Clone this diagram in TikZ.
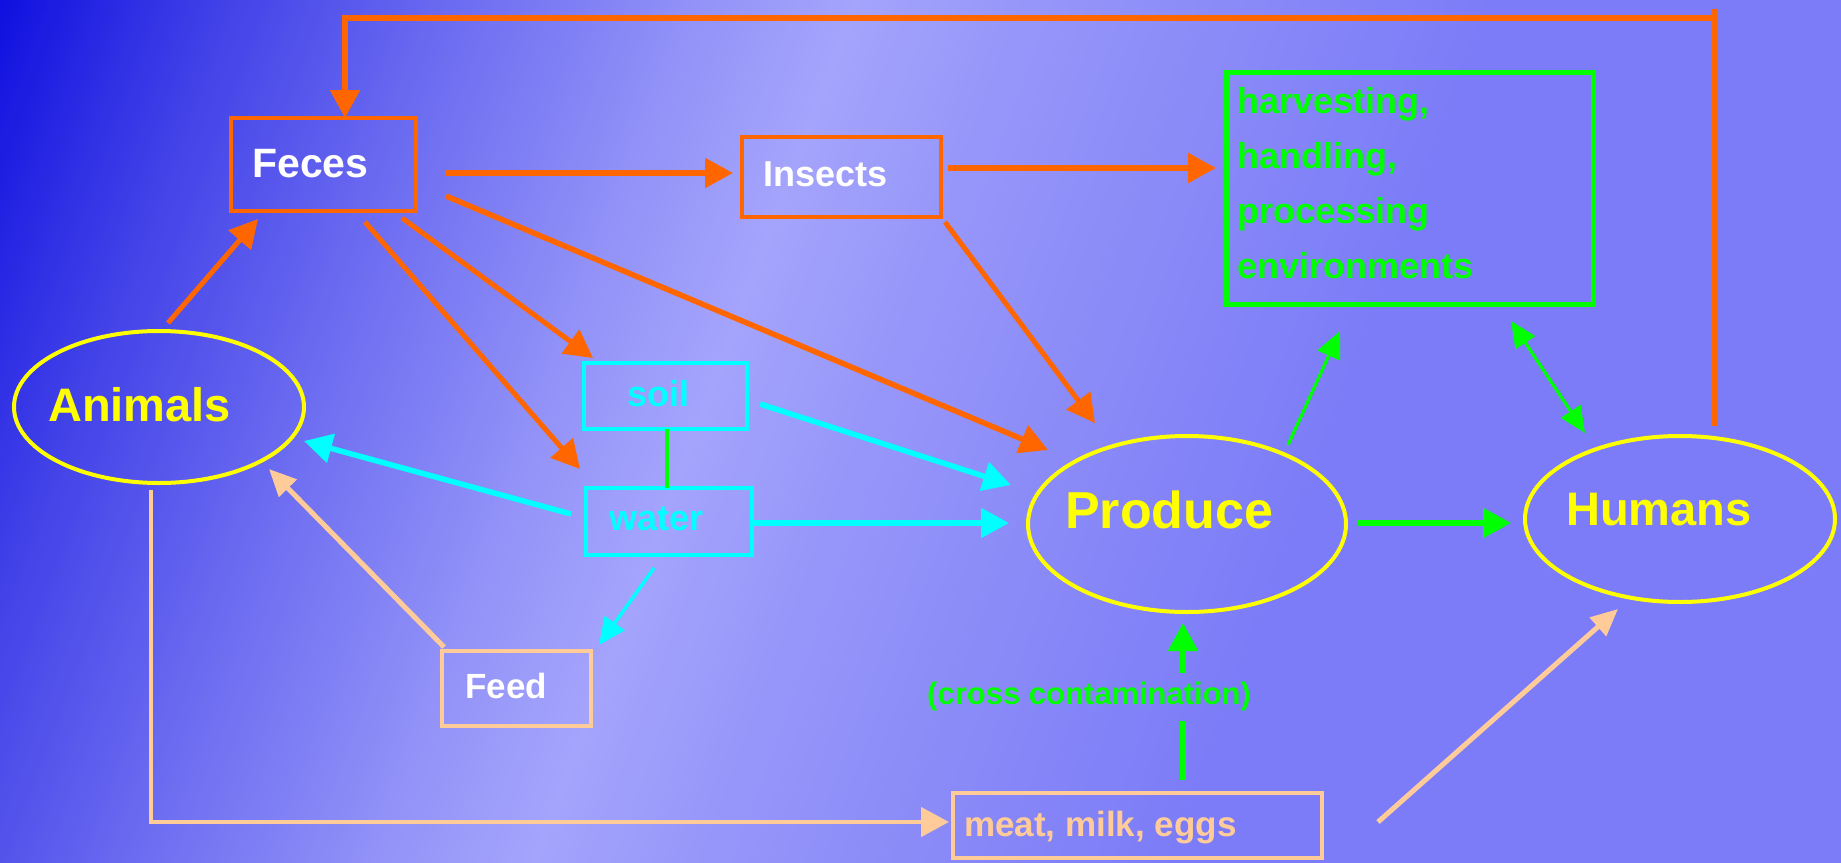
\documentclass[tikz,border=0pt]{standalone}
\usepackage{fontspec}
\setmainfont{Liberation Sans}
\usetikzlibrary{arrows.meta,shapes.geometric,calc}
\definecolor{cOr}{HTML}{FF6600}
\definecolor{cGr}{HTML}{00FF00}
\definecolor{cCy}{HTML}{00FFFF}
\definecolor{cYe}{HTML}{FFFF00}
\definecolor{cPe}{HTML}{FFCC99}
\definecolor{bgA}{HTML}{1010E0}
\definecolor{bgB}{HTML}{4040E8}
\definecolor{bgC}{HTML}{7070F2}
\definecolor{bgD}{HTML}{9292F8}
\definecolor{bgE}{HTML}{A4A4FC}
\definecolor{bgF}{HTML}{9696FA}
\definecolor{bgG}{HTML}{8A8AF8}
\definecolor{bgH}{HTML}{7C7CF8}
\newcommand\setfsz[1]{\fontsize{#1}{#1}\selectfont}
\newcommand\bgseg[4]{%
  \pgfmathtruncatemacro\bgN{(#2-#1)/4}%
  \foreach \k in {0,...,\bgN}{%
    \pgfmathsetmacro\bgS{#1+4*\k}%
    \pgfmathsetmacro\bgP{100*\k/max(\bgN,1)}%
    \fill[#4!\bgP!#3] (\bgS,-900) rectangle ++(4.6,1900);
  }}
\begin{document}
\begin{tikzpicture}[x=1pt,y=-1pt,
  box/.style={draw, rectangle, inner sep=0pt, outer sep=0pt},
  ell/.style={draw=cYe, ellipse, line width=4pt, inner sep=0pt, outer sep=0pt},
  lbl/.style={inner sep=0pt, anchor=base west, font=\bfseries},
  oline/.style={draw=cOr, line width=5.5pt},
  othin/.style={draw=cOr, line width=5pt},
  cline/.style={draw=cCy, line width=5.5pt},
  cthin/.style={draw=cCy, line width=3.5pt},
  gline/.style={draw=cGr, line width=5.5pt},
  gthin/.style={draw=cGr, line width=3.2pt},
  pline/.style={draw=cPe, line width=5pt},
  arrBig/.style={-{Triangle[length=28pt,width=29pt]}},
  arrSmall/.style={-{Triangle[length=27pt,width=24pt]}},
  arrBoth/.style={{Triangle[length=26pt,width=23pt]}-{Triangle[length=26pt,width=23pt]}},
]
\useasboundingbox (0,0) rectangle (1841,862);
% background
\begin{scope}
\clip (0,0) rectangle (1841,862);
\begin{scope}[rotate=-20.5]
\bgseg{0}{200}{bgA}{bgB}
\bgseg{200}{450}{bgB}{bgC}
\bgseg{450}{650}{bgC}{bgD}
\bgseg{650}{800}{bgD}{bgE}
\bgseg{800}{960}{bgE}{bgF}
\bgseg{960}{1160}{bgF}{bgG}
\bgseg{1160}{1400}{bgG}{bgH}
\fill[bgH] (1400,-900) rectangle (2300,1000);
\end{scope}
\end{scope}

% nodes
\node[box, draw=cOr, line width=4.5pt, minimum width=185pt, minimum height=93pt] (feces) at (323.5,164.5) {};
\node[lbl, white, font=\bfseries\setfsz{41}] (fecesT) at (252,177) {Feces};
\node[box, draw=cOr, line width=4.5pt, minimum width=199pt, minimum height=80pt] (insects) at (841.5,177) {};
\node[lbl, white, font=\bfseries\setfsz{36}] (insectsT) at (763,186) {Insects};
\node[box, draw=cGr, line width=5pt, minimum width=367pt, minimum height=232pt] (harvest) at (1409.5,188) {};
\node[lbl, cGr, font=\bfseries\setfsz{36}] (h1) at (1237,113) {harvesting,};
\node[lbl, cGr, font=\bfseries\setfsz{36}] (h2) at (1237,168) {handling,};
\node[lbl, cGr, font=\bfseries\setfsz{36}] (h3) at (1237,223) {processing};
\node[lbl, cGr, font=\bfseries\setfsz{36}] (h4) at (1237,278) {environments};
\node[box, draw=cCy, line width=4.5pt, minimum width=163pt, minimum height=66pt] (soil) at (665.5,396) {};
\node[lbl, cCy, font=\bfseries\setfsz{36}] (soilT) at (627,406) {soil};
\node[box, draw=cCy, line width=4.5pt, minimum width=166pt, minimum height=67pt] (water) at (669,521.5) {};
\node[lbl, cCy, font=\bfseries\setfsz{36}] (waterT) at (609,530) {water};
\node[box, draw=cPe, line width=4.5pt, minimum width=149pt, minimum height=75pt] (feed) at (516.5,688.5) {};
\node[lbl, white, font=\bfseries\setfsz{35}] (feedT) at (465,698) {Feed};
\node[box, draw=cPe, line width=4pt, minimum width=369pt, minimum height=65pt] (meat) at (1137.5,825.5) {};
\node[lbl, cPe, font=\bfseries\setfsz{35}] (meatT) at (964,836) {meat, milk, eggs};
\node[ell, minimum width=290pt, minimum height=152pt] (animals) at (159,407) {};
\node[lbl, cYe, font=\bfseries\setfsz{47}] (animalsT) at (48,421) {Animals};
\node[ell, minimum width=318pt, minimum height=176pt] (produce) at (1187,524) {};
\node[lbl, cYe, font=\bfseries\setfsz{52}] (produceT) at (1065,528) {Produce};
\node[ell, minimum width=310pt, minimum height=166pt] (humans) at (1680,519) {};
\node[lbl, cYe, font=\bfseries\setfsz{47}] (humansT) at (1566,525) {Humans};
\node[lbl, cGr, font=\bfseries\setfsz{31}] (cc) at (927,704) {(cross contamination)};

% connectors
\coordinate (topR) at ($(humans.north)+(35,-427)$);
\draw[oline] ($(humans.north)+(35,-10)$) -- (topR);
\draw[oline, arrBig] ($(topR)+(0,9)$) -| ($(feces.north)+(21.5,0)$);
\draw[oline] ($(topR)+(-1370,9)$) -- ($(topR)+(-1370+8,9)$);
\draw[othin, arrBig] ($(animals.north)+(9,-8)$) -- ($(feces.south west)+(27,8)$);
\draw[oline, arrBig] ($(feces.east)+(29,8.5)$) -- ($(insects.west)+(-9,-4)$);
\draw[oline, arrBig] ($(insects.east)+(7,-9)$) -- ($(harvest.west)+(-10,-20)$);
\draw[othin, arrBig] ($(feces.south east)+(-14,7)$) -- ($(soil.north)+(-72.5,-5)$);
\draw[othin, arrBig] ($(feces.south)+(41.5,11)$) -- ($(water.north)+(-89,-19)$);
\draw[oline, arrBig] ($(feces.east)+(30,31.5)$) -- ($(produce.center)+(-139,-74)$);
\draw[othin, arrBig] ($(insects.south east)+(4,5)$) -- ($(produce.north)+(-92,-13)$);
\draw[cline, arrBig] ($(soil.east)+(13,8)$) -- ($(produce.west)+(-17,-39)$);
\draw[cline, arrBig] ($(water.east)+(0,1.5)$) -- ($(produce.west)+(-19,-1)$);
\draw[cline, arrBig] ($(water.west)+(-15,-7.5)$) -- ($(animals.east)+(0,34)$);
\draw[cthin, arrSmall] ($(water.south)+(-15,13)$) -- ($(feed.north east)+(8,-6)$);
\draw[gthin, line width=4pt] ($(soil.south)+(1.5,0)$) -- ($(water.north)+(-2,0)$);
\draw[pline, arrSmall] ($(feed.north west)+(2,-4)$) -- ($(animals.center)+(110,62)$);
\draw[pline, line width=4.5pt, arrBig] ($(animals.south)+(-8,7)$) |- ($(meat.west)+(-4,-3.5)$);
\draw[gline] ($(meat.north)+(45.5,-13)$) -- ($(meat.north)+(45.5,-72)$);
\draw[gline, arrBig] ($(produce.south)+(-4,61)$) -- ($(produce.south)+(-4,11)$);
\draw[pline, arrSmall] ($(meat.east)+(56,-3.5)$) -- ($(humans.south)+(-62,7)$);
\draw[gline, arrBig] ($(produce.east)+(12,-1)$) -- ($(humans.west)+(-14,4)$);
\draw[gthin, arrSmall] ($(produce.north)+(101,9)$) -- ($(harvest.south)+(-69.5,27)$);
\draw[gthin, arrBoth] ($(harvest.south east)+(-82,17)$) -- ($(humans.north)+(-95,-3)$);
\end{tikzpicture}
\end{document}
